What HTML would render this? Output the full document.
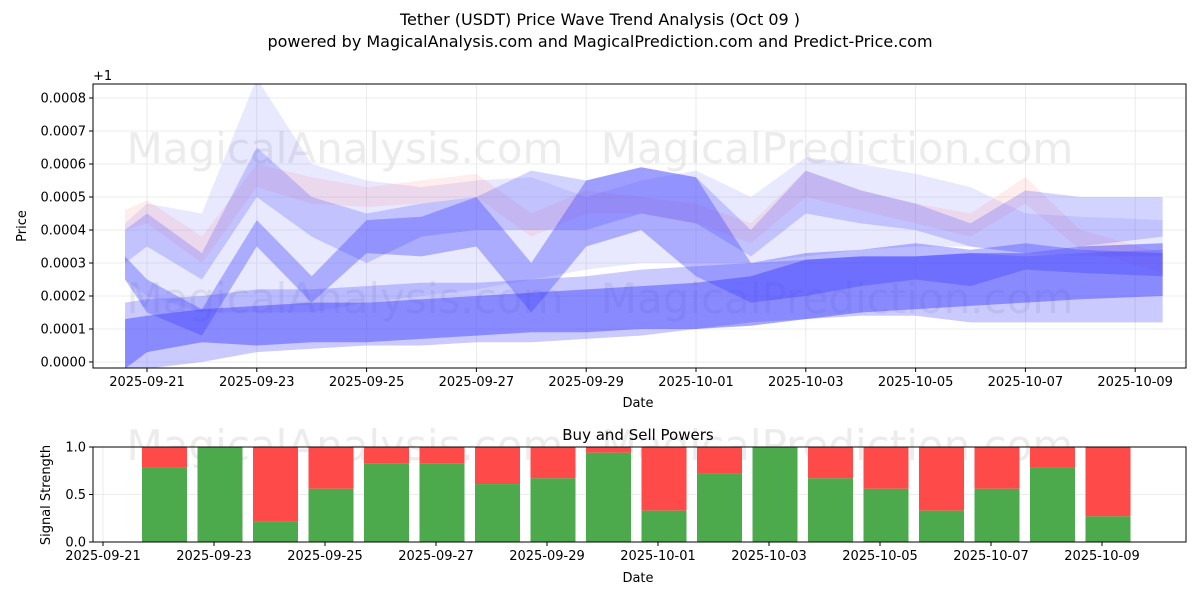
<!DOCTYPE html>
<html><head><meta charset="utf-8"><style>
body{margin:0;background:#fff;font-family:"Liberation Sans","DejaVu Sans",sans-serif}
svg text{font-family:"DejaVu Sans","Liberation Sans",sans-serif}
</style></head><body>
<svg id="c" width="1200" height="600" viewBox="0 0 1200 600" xmlns="http://www.w3.org/2000/svg">
<rect width="1200" height="600" fill="#fff"/>
<text x="600" y="25" text-anchor="middle" font-size="16">Tether (USDT) Price Wave Trend Analysis (Oct 09 )</text>
<text x="600" y="47" text-anchor="middle" font-size="16">powered by MagicalAnalysis.com and MagicalPrediction.com and Predict-Price.com</text>
<defs><clipPath id="cp1"><rect x="93" y="84" width="1093" height="284"/></clipPath></defs>
<g id="topg" clip-path="url(#cp1)"></g>
<g id="topaxes"></g>
<g id="bot"></g>
</svg>
<script>
const dayOffsets=[-0.4,0,1,2,3,4,5,6,7,8,9,10,11,12,13,14,15,16,17,18.5];
const band1Hi=[4.2,4.8,4.5,8.6,6.0,5.5,5.3,5.5,5.6,5.0,5.5,5.8,5.0,6.2,6.0,5.7,5.3,4.5,4.4,4.3];
const band1Lo=[2.5,2.0,1.5,1.5,1.5,1.8,2.0,2.2,2.5,2.8,3.0,3.0,3.0,3.2,3.4,3.5,3.5,3.3,3.2,3.2];
const band2Hi=[4.6,4.9,3.8,6.0,5.6,5.3,5.5,5.7,4.5,5.2,5.0,4.8,4.2,5.8,5.2,4.8,4.5,5.6,4.0,3.3];
const band2Lo=[4.0,4.2,3.0,5.3,4.8,4.7,4.8,5.0,3.8,4.5,4.5,4.2,3.6,5.0,4.6,4.2,3.8,4.8,3.4,2.7];
const band3Hi=[4.0,4.5,3.3,6.5,5.0,4.5,4.8,5.0,5.8,5.5,5.9,5.6,4.0,5.8,5.2,4.8,4.2,5.2,5.0,5.0];
const band3Lo=[3.0,3.5,2.5,5.0,3.8,3.0,3.8,4.0,4.0,4.0,4.5,4.2,3.2,4.5,4.2,4.0,3.5,3.3,3.5,3.8];
const band4Hi=[3.2,2.5,1.6,4.3,2.6,4.3,4.4,5.0,3.0,5.5,5.9,5.6,3.0,3.3,3.4,3.6,3.4,3.6,3.4,3.3];
const band4Lo=[2.5,1.5,0.8,3.5,1.8,3.3,3.2,3.5,1.5,3.5,4.0,2.6,1.8,2.0,2.3,2.5,2.3,2.8,2.7,2.6];
const band5Hi=[1.3,1.4,1.6,1.7,1.8,1.8,1.9,2.0,2.1,2.2,2.3,2.4,2.6,3.1,3.2,3.2,3.3,3.3,3.5,3.6];
const band5Lo=[-0.2,0.3,0.6,0.5,0.6,0.6,0.7,0.8,0.9,0.9,1.0,1.0,1.1,1.3,1.5,1.6,1.7,1.8,1.9,2.0];
const band6Hi=[1.8,1.9,2.0,2.2,2.2,2.3,2.4,2.4,2.5,2.6,2.8,2.9,3.0,3.1,3.2,3.2,3.3,3.2,3.3,3.4];
const band6Lo=[-0.5,-0.2,0,0.3,0.4,0.5,0.5,0.6,0.6,0.7,0.8,1.0,1.2,1.3,1.4,1.4,1.2,1.2,1.2,1.2];
const yTicks=["0.0000","0.0001","0.0002","0.0003","0.0004","0.0005","0.0006","0.0007","0.0008"];
const xTickLabels=["2025-09-21","2025-09-23","2025-09-25","2025-09-27","2025-09-29","2025-10-01","2025-10-03","2025-10-05","2025-10-07","2025-10-09"];
const barLabels=["09-22","09-23","09-24","09-25","09-26","09-27","09-28","09-29","09-30","10-01","10-02","10-03","10-04","10-05","10-06","10-07","10-08","10-09"];
const buyValues=[0.78,1.0,0.22,0.56,0.83,0.83,0.61,0.67,0.94,0.33,0.72,1.0,0.67,0.56,0.33,0.56,0.78,0.27];
const botYTicks=["0.0","0.5","1.0"];

const NS="http://www.w3.org/2000/svg";
function mk(p,t,a){const e=document.createElementNS(NS,t);for(const k in a)e.setAttribute(k,a[k]);p.appendChild(e);return e;}
const xT=d=>147+d*54.9;
const yT=v=>362-v*33;
const topG=document.getElementById('topg'),axG=document.getElementById('topaxes'),botG=document.getElementById('bot');
yTicks.forEach((t,i)=>{mk(topG,'line',{x1:93,x2:1186,y1:yT(i),y2:yT(i),stroke:'#e6e6e6','stroke-width':0.8});});
xTickLabels.forEach((t,i)=>{mk(topG,'line',{x1:xT(i*2),x2:xT(i*2),y1:84,y2:368,stroke:'#e6e6e6','stroke-width':0.8});});
[[345,163,"MagicalAnalysis.com"],[837,163,"MagicalPrediction.com"],[345,313,"MagicalAnalysis.com"],[837,313,"MagicalPrediction.com"]].forEach(w=>{
 const t=mk(topG,'text',{x:w[0],y:w[1],'text-anchor':'middle','font-size':42,fill:'rgba(180,180,180,0.25)'});t.textContent=w[2];
 
 
});
const bands=[[band1Hi,band1Lo,'rgba(100,100,255,0.15)'],[band2Hi,band2Lo,'rgba(255,110,110,0.13)'],[band3Hi,band3Lo,'rgba(80,80,255,0.25)'],[band4Hi,band4Lo,'rgba(60,60,255,0.35)'],[band6Hi,band6Lo,'rgba(80,80,255,0.3)'],[band5Hi,band5Lo,'rgba(60,60,255,0.45)']];
bands.forEach((b,bi)=>{
 let pts=dayOffsets.map((d,i)=>xT(d)+','+yT(b[0][i]));
 for(let i=dayOffsets.length-1;i>=0;i--)pts.push(xT(dayOffsets[i])+','+yT(b[1][i]));
 const p=mk(topG,'polygon',{points:pts.join(' '),fill:b[2]});
 
 
});
mk(axG,'rect',{x:93,y:84,width:1093,height:284,fill:'none',stroke:'#000','stroke-width':1});
yTicks.forEach((t,i)=>{mk(axG,'line',{x1:89,x2:93,y1:yT(i),y2:yT(i),stroke:'#000'});const e=mk(axG,'text',{x:86,y:yT(i)+4.5,'text-anchor':'end','font-size':13});e.textContent=t;
 
 });
xTickLabels.forEach((t,i)=>{const x=xT(i*2);mk(axG,'line',{x1:x,x2:x,y1:368,y2:372,stroke:'#000'});const e=mk(axG,'text',{x:x,y:386,'text-anchor':'middle','font-size':13});e.textContent=t;
 
 });
let e=mk(axG,'text',{x:93,y:80,'font-size':13});e.textContent='+1';
e=mk(axG,'text',{x:638,y:407,'text-anchor':'middle','font-size':13});e.textContent='Date';

e=mk(axG,'text',{x:26,y:226,'text-anchor':'middle','font-size':13,transform:'rotate(-90 26 226)'});e.textContent='Price';

const bx=d=>103+d*55.5;
const by=v=>542-v*95;
botYTicks.forEach((t,i)=>{mk(botG,'line',{x1:93,x2:1186,y1:by(i*0.5),y2:by(i*0.5),stroke:'#e6e6e6','stroke-width':0.8});});
xTickLabels.forEach((t,i)=>{mk(botG,'line',{x1:bx(i*2),x2:bx(i*2),y1:447,y2:542,stroke:'#e6e6e6','stroke-width':0.8});});
[[345,460,"MagicalAnalysis.com"],[837,460,"MagicalPrediction.com"]].forEach(w=>{const t=mk(botG,'text',{x:w[0],y:w[1],'text-anchor':'middle','font-size':42,fill:'rgba(180,180,180,0.25)'});t.textContent=w[2];});
buyValues.forEach((v,i)=>{const c=bx(i+1)+6;
 const r=mk(botG,'rect',{x:c-22.5,y:by(1),width:45,height:by(v)-by(1),fill:'#ff4a4a'});
 
 
 const g=mk(botG,'rect',{x:c-22.5,y:by(v),width:45,height:542-by(v),fill:'#4caa4c'});
 
 
});
mk(botG,'rect',{x:93,y:447,width:1093,height:95,fill:'none',stroke:'#000'});
botYTicks.forEach((t,i)=>{const y=by(i*0.5);mk(botG,'line',{x1:89,x2:93,y1:y,y2:y,stroke:'#000'});const e=mk(botG,'text',{x:86,y:y+4.5,'text-anchor':'end','font-size':13});e.textContent=t;});
xTickLabels.forEach((t,i)=>{const x=bx(i*2);mk(botG,'line',{x1:x,x2:x,y1:542,y2:546,stroke:'#000'});const e=mk(botG,'text',{x:x,y:560,'text-anchor':'middle','font-size':13});e.textContent=t;});
e=mk(botG,'text',{x:638,y:440,'text-anchor':'middle','font-size':15});e.textContent='Buy and Sell Powers';

e=mk(botG,'text',{x:638,y:582,'text-anchor':'middle','font-size':13});e.textContent='Date';
e=mk(botG,'text',{x:50,y:495,'text-anchor':'middle','font-size':13,transform:'rotate(-90 50 495)'});e.textContent='Signal Strength';

</script>
</body></html>
